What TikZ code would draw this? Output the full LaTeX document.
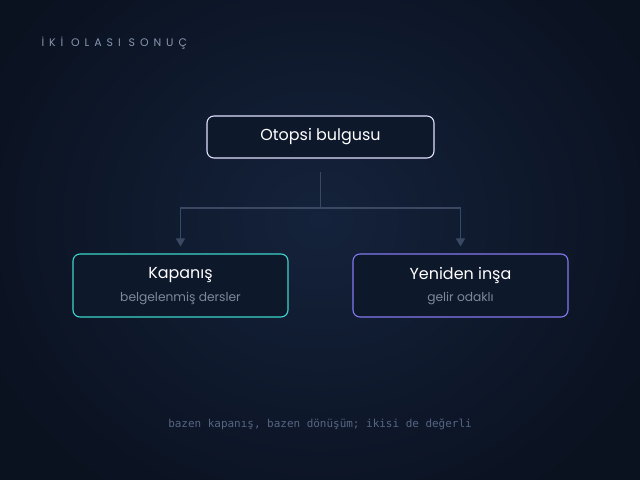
\documentclass[tikz,border=0pt]{standalone}
\usepackage{fontspec}
\setmainfont{Poppins}
\newfontfamily\monofont{DejaVu Sans Mono}
\newfontfamily\capsfont[LetterSpace=45]{Poppins}
\usetikzlibrary{arrows.meta}

\definecolor{bgdark}{HTML}{0A111F}
\definecolor{bglight}{HTML}{14223B}
\definecolor{boxfill}{HTML}{0E182B}
\definecolor{linkgray}{HTML}{3A4961}
\definecolor{subgray}{HTML}{7D889C}
\definecolor{capsgray}{HTML}{8796B0}
\definecolor{notegray}{HTML}{566582}
\definecolor{tealedge}{HTML}{3DD6CC}
\definecolor{violetedge}{HTML}{8479F0}

\begin{document}
\begin{tikzpicture}[x=1bp,y=-1bp,
    box/.style={draw, rounded corners=7bp, fill=boxfill, line width=1.1bp, text=white},
    topbox/.style={box, draw=white!88!blue, minimum width=227bp, minimum height=42bp, font=\fontsize{16}{19}\selectfont},
    endbox/.style={box, minimum width=215bp, minimum height=63bp},
    link/.style={draw=linkgray, line width=1.2bp},
    tip/.style={-{Triangle[width=9bp,length=8bp]}}]
          % background
          \useasboundingbox (0,0) rectangle (640,480);
          \clip (0,0) rectangle (640,480);
          \fill[bgdark] (0,0) rectangle (640,480);
          \shade[inner color=bglight, outer color=bgdark] (-60,-120) rectangle (700,560);

          \node[anchor=west, text=capsgray, font=\capsfont\fontsize{11}{13}\selectfont] (caption) at (38,43) {İKİ OLASI SONUÇ};

          \node[topbox] (bulgu) at (320.5,137) {Otopsi bulgusu};
          \node[endbox, draw=tealedge] (kapanis) at (180.5,285.5) {};
          \node[endbox, draw=violetedge] (insa) at (460.5,285.5) {};

          \node[text=white, font=\fontsize{16}{19}\selectfont] (kapanisbaslik) at (180.5,275.5) {Kapanış};
          \node[text=subgray, font=\fontsize{12.3}{14}\selectfont] (kapanisalt) at (180.5,298.5) {belgelenmiş dersler};
          \node[text=white, font=\fontsize{16}{19}\selectfont] (insabaslik) at (460.5,275.5) {Yeniden inşa};
          \node[text=subgray, font=\fontsize{12.3}{14}\selectfont] (insaalt) at (460.5,298.5) {gelir odaklı};

          % split point
          \coordinate (split) at (320.5,208);
          \draw[link] ([yshift=-13bp]bulgu.south) -- (split);
          \draw[link, tip, linkgray] (split) -| ([yshift=7bp]kapanis.north);
          \draw[link, tip, linkgray] (split) -| ([yshift=7bp]insa.north);

          \node[text=notegray, font=\monofont\fontsize{11}{13}\selectfont] (note) at (320,424) {bazen kapanış, bazen dönüşüm; ikisi de değerli};
\end{tikzpicture}
\end{document}
